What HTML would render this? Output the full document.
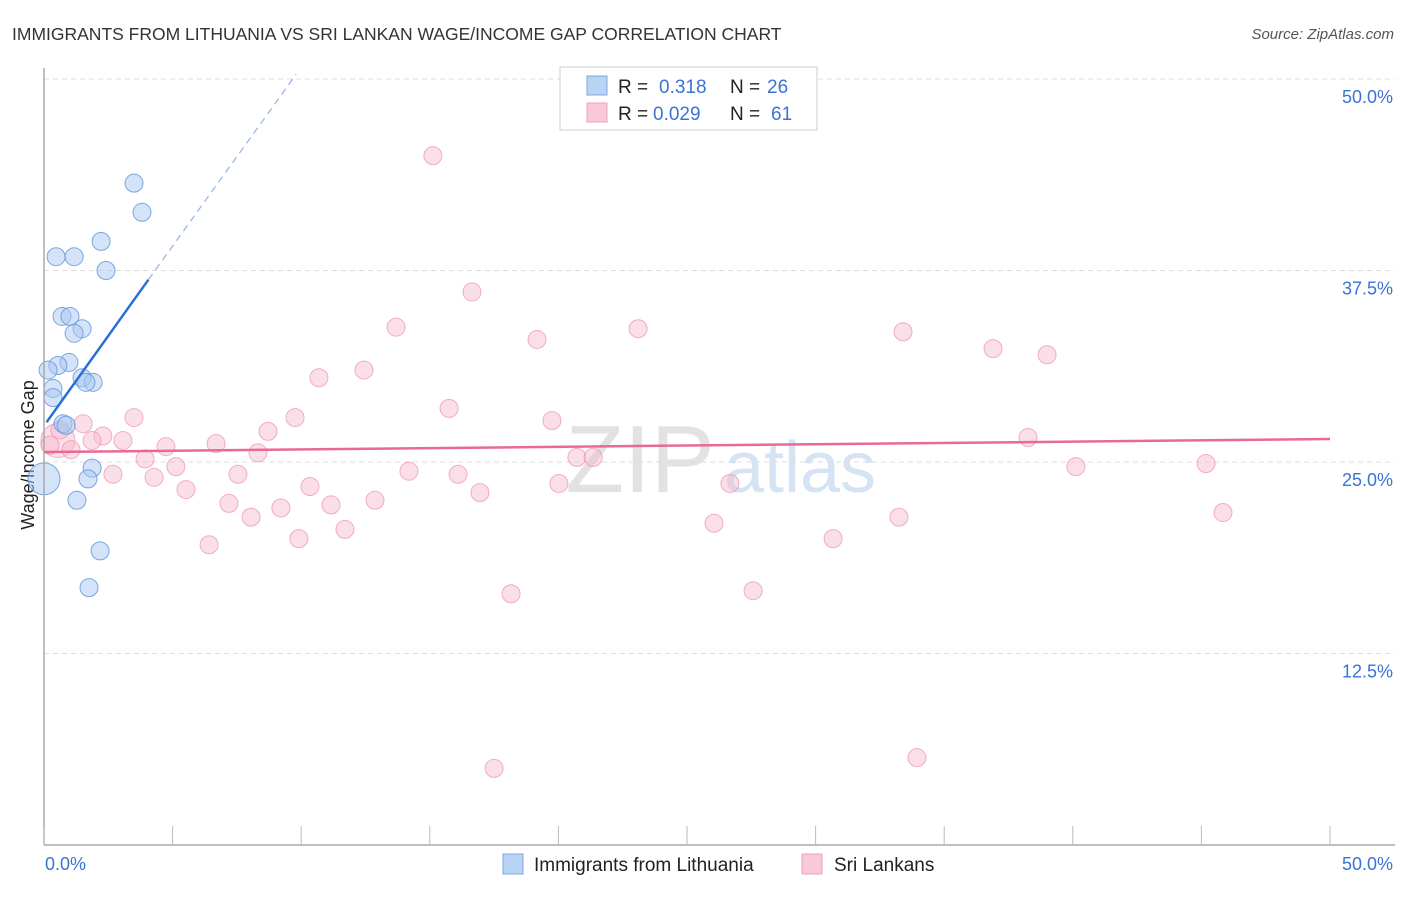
<!DOCTYPE html>
<html><head><meta charset="utf-8"><style>
body{margin:0;background:#fff;font-family:"Liberation Sans",sans-serif;}
svg text{font-family:"Liberation Sans",sans-serif;}
</style></head><body>
<svg id="c" width="1406" height="892" xmlns="http://www.w3.org/2000/svg">
<text x="12" y="40" font-size="17.5" fill="#333">IMMIGRANTS FROM LITHUANIA VS SRI LANKAN WAGE/INCOME GAP CORRELATION CHART</text>
<text x="1394" y="39" font-size="15" fill="#555" text-anchor="end" font-style="italic">Source: ZipAtlas.com</text>
<text x="640" y="492" font-size="96" fill="#e2e2e2" font-family="Liberation Serif" text-anchor="middle">ZIP</text>
<text x="800" y="492" font-size="72" fill="#d5e3f3" text-anchor="middle">atlas</text>
<text transform="translate(34,455) rotate(-90)" font-size="18" fill="#222" text-anchor="middle">Wage/Income Gap</text>
<g id="grid"></g><g id="marks"></g><g id="axes"></g>
<g>
<rect x="560" y="67" width="257" height="63" fill="#fff" stroke="#ccc"/>
<rect x="587" y="76" width="20" height="19" fill="#b9d3f5" stroke="#7aa7e3"/>
<rect x="587" y="103" width="20" height="19" fill="#f9c9d8" stroke="#eea0b9"/>
<text x="618" y="93" font-size="19" fill="#222">R = </text><text x="659" y="93" font-size="19" fill="#3b73d4">0.318</text>
<text x="730" y="93" font-size="19" fill="#222">N = </text><text x="767" y="93" font-size="19" fill="#3b73d4">26</text>
<text x="618" y="120" font-size="19" fill="#222">R = </text><text x="653" y="120" font-size="19" fill="#3b73d4">0.029</text>
<text x="730" y="120" font-size="19" fill="#222">N = </text><text x="771" y="120" font-size="19" fill="#3b73d4">61</text>
</g>
<g>
<rect x="503" y="854" width="20" height="20" fill="#b9d3f5" stroke="#7aa7e3"/>
<text x="534" y="871" font-size="19" fill="#222">Immigrants from Lithuania</text>
<rect x="802" y="854" width="20" height="20" fill="#f9c9d8" stroke="#eea0b9"/>
<text x="834" y="871" font-size="19" fill="#222">Sri Lankans</text>
</g>
</svg>
<script>
const blueX=[3.50,3.81,2.22,0.47,1.17,2.41,0.70,1.01,1.48,1.17,0.97,0.54,0.16,1.48,1.91,1.63,0.35,0.35,0.74,0.86,1.87,1.71,0.0,1.28,2.18,1.75];
const blueY=[43.2,41.3,39.4,38.4,38.4,37.5,34.5,34.5,33.7,33.4,31.5,31.3,31.0,30.5,30.2,30.2,29.8,29.2,27.5,27.4,24.6,23.9,23.9,22.5,19.2,16.8];
const blueBig=[22];
const pinkX=[15.12,16.64,13.69,19.17,23.1,33.4,36.9,39.0,10.69,12.44,15.75,9.76,3.50,19.75,1.52,2.29,3.07,4.74,6.69,8.71,8.32,38.26,3.93,5.13,7.54,4.28,5.52,7.19,8.05,9.21,10.34,11.16,11.70,12.87,14.19,16.10,16.95,20.02,20.72,21.35,26.67,26.05,27.57,30.68,33.24,40.12,45.18,45.84,6.42,9.91,18.16,17.50,33.94,0.54,1.05,1.87,2.68,0.23,0.62,28.2];
const pinkY=[45.0,36.1,33.8,33.0,33.7,33.5,32.4,32.0,30.5,31.0,28.5,27.9,27.9,27.7,27.5,26.7,26.4,26.0,26.2,27.0,25.6,26.6,25.2,24.7,24.2,24.0,23.2,22.3,21.4,22.0,23.4,22.2,20.6,22.5,24.4,24.2,23.0,23.6,25.3,25.3,23.6,21.0,16.6,20.0,21.4,24.7,24.9,21.7,19.6,20.0,16.4,5.0,5.7,26.4,25.8,26.4,24.2,26.1,27.1,49.0];
const pinkBig=[53];
const yTicks=[12.5,25.0,37.5,50.0];
const yTickLabels=["12.5%","25.0%","37.5%","50.0%"];
const xTickLabels=["0.0%","50.0%"];
const blueTrend=[[0.1,27.6],[4.06,36.9],[9.8,50.3]];
const pinkTrend=[[0,25.65],[50,26.5]];
const X=v=>44+v*25.72, Y=v=>845-v*15.32;
const NS="http://www.w3.org/2000/svg";
function mk(t,a,p){const e=document.createElementNS(NS,t);for(const k in a)e.setAttribute(k,a[k]);document.getElementById(p).appendChild(e);return e;}
yTicks.forEach((t,i)=>{
 const g=mk('line',{x1:44,x2:1395,y1:Y(t),y2:Y(t),stroke:'#ddd','stroke-dasharray':'5,4'},'grid');
 
 
 const l=mk('text',{x:1393,y:Y(t)+24,'font-size':18,fill:'#3b73d4','text-anchor':'end'},'axes');l.textContent=yTickLabels[i];
 
 
});
mk('line',{x1:44,x2:1395,y1:845,y2:845,stroke:'#aaa','stroke-width':1.5},'axes');
mk('line',{x1:44,x2:44,y1:68,y2:845,stroke:'#aaa','stroke-width':1.5},'axes');
for(let i=0;i<=10;i++){const t=mk('line',{x1:X(i*5),x2:X(i*5),y1:826,y2:845,stroke:'#bbb'},'axes');
 
 }
const xl0=mk('text',{x:45,y:870,'font-size':18,fill:'#3b73d4'},'axes');xl0.textContent=xTickLabels[0];


const xl1=mk('text',{x:1393,y:870,'font-size':18,fill:'#3b73d4','text-anchor':'end'},'axes');xl1.textContent=xTickLabels[1];


pinkX.forEach((x,i)=>{const big=pinkBig.includes(i);
 const c=mk('circle',{cx:X(x),cy:Y(pinkY[i]),r:big?17:9,fill:'#f7b8cc','fill-opacity':0.45,stroke:'#ec8fae','stroke-opacity':0.7},'marks');
 
 });
blueX.forEach((x,i)=>{const big=blueBig.includes(i);
 const c=mk('circle',{cx:X(x),cy:Y(blueY[i]),r:big?16:9,fill:'#a9c8f0','fill-opacity':0.5,stroke:'#5d93dc','stroke-opacity':0.8},'marks');
 
 });
const bt=mk('line',{x1:X(blueTrend[0][0]),y1:Y(blueTrend[0][1]),x2:X(blueTrend[1][0]),y2:Y(blueTrend[1][1]),stroke:'#2a6fd6','stroke-width':2.5},'marks');


const bd=mk('line',{x1:X(blueTrend[1][0]),y1:Y(blueTrend[1][1]),x2:X(blueTrend[2][0]),y2:Y(blueTrend[2][1]),stroke:'#8fb3e6','stroke-width':1.2,'stroke-dasharray':'7,5'},'marks');


const pt=mk('line',{x1:X(pinkTrend[0][0]),y1:Y(pinkTrend[0][1]),x2:X(pinkTrend[1][0]),y2:Y(pinkTrend[1][1]),stroke:'#e86a94','stroke-width':2.5},'marks');


</script>
</body></html>
